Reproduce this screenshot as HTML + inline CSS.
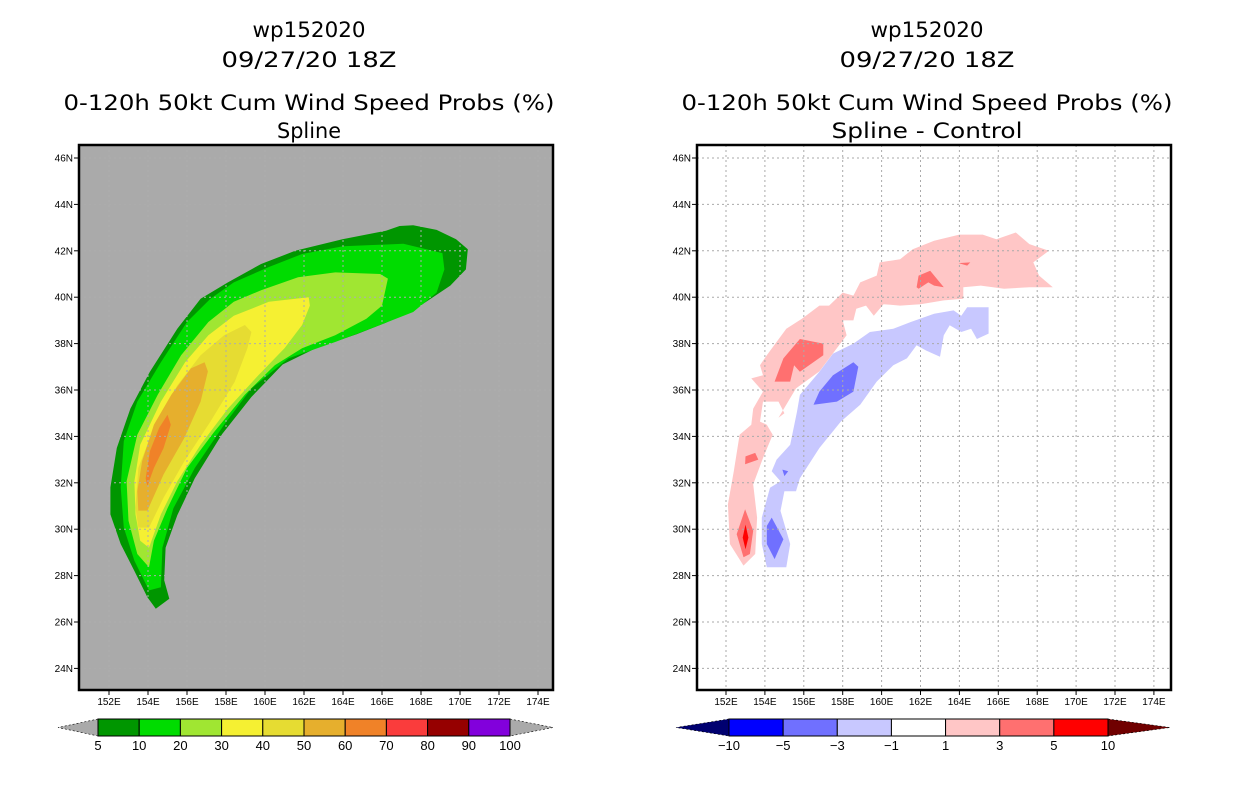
<!DOCTYPE html>
<html><head><meta charset="utf-8"><style>
html,body{margin:0;padding:0;background:#fff;}
svg{display:block;font-family:"Liberation Sans",sans-serif;}
</style></head><body>
<svg id="fig" width="1236" height="800" viewBox="0 0 1236 800" xmlns="http://www.w3.org/2000/svg">
<g id="L"></g>
<g id="R"></g>
</svg>
<script>
// ---- data ----
const lonTicks = [152,154,156,158,160,162,164,166,168,170,172,174];
const latTicks = [24,26,28,30,32,34,36,38,40,42,44,46];
const probLevels = ["5","10","20","30","40","50","60","70","80","90","100"];
const probColors = ["#009600","#00dc00","#a0e632","#f5f032","#e6dc32","#e6af2d","#f08228","#fa3c3c","#960000","#8200dc"];
const diffLevels = ["-10","-5","-3","-1","1","3","5","10"];
const diffColors = ["#0000ff","#7070ff","#c8c8ff","#ffffff","#ffc6c6","#ff7070","#ff0000"];
const p05 = [[154.4,26.57],[155.09,27.0],[154.83,27.8],[154.9,29.2],[155.5,30.6],[156.4,32.2],[157.8,34.1],[159.3,35.7],[160.9,37.1],[162.6,37.8],[164.7,38.4],[166.2,38.9],[167.9,39.6],[169.5,40.5],[170.3,41.2],[170.4,42.07],[169.8,42.5],[168.8,42.9],[167.6,43.1],[166.9,43.07],[166.2,42.86],[163.97,42.5],[161.55,42.0],[159.8,41.43],[158.1,40.64],[156.7,39.93],[155.5,38.64],[154.1,36.79],[153.1,35.2],[152.4,33.5],[152.07,31.8],[152.07,30.64],[152.6,29.36],[153.3,28.2],[153.97,27.07]];
const p10 = [[154.05,27.36],[154.66,27.5],[154.74,29.2],[155.3,30.9],[156.4,32.64],[157.9,34.5],[159.3,36.07],[161.2,37.36],[163.6,38.07],[165.9,38.8],[167.6,39.36],[168.8,40.2],[169.2,41.2],[169.1,41.9],[167.1,42.3],[164.0,42.2],[161.9,41.86],[160.2,41.3],[158.4,40.64],[157.2,39.93],[156.0,38.93],[154.66,37.2],[153.45,35.5],[152.76,33.8],[152.6,31.8],[152.76,30.07],[153.3,28.64]];
const p20 = [[154.05,28.36],[154.3,29.5],[155.0,30.9],[156.0,32.64],[157.4,34.2],[158.97,35.8],[160.5,37.07],[161.9,37.8],[163.6,38.36],[165.2,39.07],[166.0,39.64],[166.3,40.8],[165.9,41.0],[163.6,41.07],[161.7,40.86],[159.8,40.3],[158.4,39.8],[157.1,38.93],[155.7,37.5],[154.5,35.8],[153.45,34.07],[152.9,32.07],[153.0,30.36],[153.45,28.93]];
const p30 = [[154.05,29.2],[154.66,30.64],[155.5,32.07],[156.7,33.64],[158.1,35.2],[159.66,36.64],[161.0,37.8],[161.9,38.8],[162.3,39.64],[162.24,40.0],[160.2,39.8],[158.4,39.2],[157.1,38.36],[155.9,37.2],[154.66,35.5],[153.6,33.64],[153.3,32.07],[153.36,30.64],[153.6,29.5]];
const p40 = [[154.05,30.07],[154.8,31.36],[155.86,32.93],[157.2,34.64],[158.45,36.36],[159.1,37.8],[159.3,38.5],[158.97,38.8],[157.9,38.36],[156.7,37.5],[155.5,36.2],[154.3,34.36],[153.5,32.64],[153.36,30.93],[153.5,30.07]];
const p50 = [[153.97,30.8],[154.8,32.36],[155.86,33.93],[156.7,35.5],[157.07,36.8],[156.9,37.2],[156.2,36.93],[155.2,35.8],[154.3,34.5],[153.7,32.93],[153.45,31.64],[153.5,30.8]];
const p60 = [[153.97,31.86],[154.3,32.64],[154.8,33.5],[155.17,34.5],[155.0,34.93],[154.57,34.36],[154.1,33.36],[153.88,32.2]];
const dPos1 = [[152.9,28.43],[153.5,28.93],[153.6,30.5],[153.4,31.93],[153.9,33.07],[154.4,34.07],[154.1,34.5],[153.75,34.64],[153.9,35.5],[154.7,35.5],[155.0,35.0],[154.7,34.8],[155.6,36.07],[156.8,36.8],[158.2,38.36],[158.0,39.0],[158.55,39.0],[158.7,39.5],[159.2,39.64],[159.6,39.2],[160.1,39.7],[160.95,39.64],[162.0,39.7],[163.2,39.86],[164.2,39.93],[164.2,40.43],[165.1,40.5],[166.3,40.36],[167.6,40.43],[168.8,40.43],[168.1,40.93],[167.8,41.5],[168.6,42.0],[167.6,42.29],[166.9,42.79],[165.9,42.5],[165.2,42.7],[164.0,42.7],[162.7,42.43],[161.6,42.07],[160.95,41.64],[159.9,41.5],[159.75,40.93],[158.9,40.64],[158.55,40.07],[158.0,40.2],[157.3,39.64],[156.8,39.64],[155.9,39.07],[155.1,38.64],[154.1,37.5],[153.75,37.07],[153.9,36.64],[153.3,36.5],[153.9,35.93],[153.4,35.2],[153.3,34.5],[152.7,34.07],[152.4,32.5],[152.1,31.07],[152.2,29.36]];
const dPos3a = [[152.98,30.86],[153.4,29.93],[153.23,28.93],[152.9,28.79],[152.55,29.79]];
const dPos3b = [[153.0,33.14],[153.5,33.29],[153.66,33.0],[152.98,32.8]];
const dPos3c = [[154.5,36.36],[154.95,37.36],[155.8,38.2],[157.0,38.0],[157.0,37.5],[155.8,36.79],[155.5,37.07],[155.3,36.36]];
const dPos3d = [[161.8,40.43],[161.9,40.93],[162.5,41.14],[163.2,40.43],[162.7,40.5],[162.4,40.64],[161.9,40.36]];
const dPos3e = [[163.96,41.47],[164.56,41.5],[164.4,41.36]];
const dPos5 = [[153.0,30.2],[153.15,29.64],[153.0,29.14],[152.86,29.64]];
const dNeg1 = [[153.84,30.5],[154.26,31.79],[154.8,32.07],[154.35,32.5],[154.6,33.0],[155.3,33.64],[155.65,35.07],[155.8,35.79],[156.8,36.79],[157.5,37.57],[158.55,38.0],[159.4,38.5],[160.6,38.64],[161.5,38.93],[162.7,39.29],[163.7,39.43],[164.1,39.2],[164.4,39.57],[165.5,39.57],[165.5,38.43],[164.9,38.2],[164.6,38.64],[164.1,38.5],[163.5,38.79],[163.2,38.36],[163.0,37.43],[162.3,37.7],[161.8,37.93],[161.3,37.36],[160.6,37.07],[159.75,36.36],[158.9,35.36],[157.9,34.64],[156.8,33.5],[155.8,32.2],[155.6,31.64],[155.0,31.64],[154.8,30.79],[155.3,29.36],[155.1,28.36],[154.1,28.36],[153.84,29.36]];
const dNeg3a = [[154.35,30.5],[154.95,29.57],[154.5,28.71],[154.1,29.36],[154.1,30.14]];
const dNeg3b = [[158.55,37.2],[158.8,37.0],[158.55,35.93],[157.7,35.5],[156.5,35.36],[156.8,35.93],[157.5,36.64]];
const dNeg3c = [[154.9,32.57],[155.2,32.5],[155.0,32.29]];

// ---- helpers ----
const NS="http://www.w3.org/2000/svg";
function mk(parent,tag,attrs){const e=document.createElementNS(NS,tag);for(const k in attrs)e.setAttribute(k,attrs[k]);parent.appendChild(e);return e;}
function panel(g,x0,x1,xLon152,pxPerLon){
  const y0=145,y1=690;
  const X=lon=>xLon152+(lon-152)*pxPerLon;
  const Y=lat=>158+(46-lat)*23.2;
  return {g,x0,x1,y0,y1,X,Y};
}
function poly(P,pts,fill,name){
  const e=mk(P.g,'polygon',{points:pts.map(p=>P.X(p[0]).toFixed(1)+','+P.Y(p[1]).toFixed(1)).join(' '),fill:fill});
  
  
}
function axes(P,gridCol){
  const cp='clip'+P.x0;
  const defs=mk(P.g,'defs',{});const c=mk(defs,'clipPath',{id:cp});mk(c,'rect',{x:P.x0,y:P.y0,width:P.x1-P.x0,height:P.y1-P.y0});
  const grid=mk(P.g,'g',{'clip-path':'url(#'+cp+')'});
  
  
  lonTicks.forEach(l=>{mk(grid,'line',{x1:P.X(l),x2:P.X(l),y1:P.y0,y2:P.y1,stroke:gridCol,'stroke-width':1,'stroke-dasharray':'2,3'});});
  latTicks.forEach(l=>{mk(grid,'line',{x1:P.x0,x2:P.x1,y1:P.Y(l),y2:P.Y(l),stroke:gridCol,'stroke-width':1,'stroke-dasharray':'2,3'});});
  const fr=mk(P.g,'rect',{x:P.x0,y:P.y0,width:P.x1-P.x0,height:P.y1-P.y0,fill:'none',stroke:'#000','stroke-width':2.5});
  
  
  lonTicks.forEach(l=>{
    mk(P.g,'line',{x1:P.X(l),x2:P.X(l),y1:P.y1,y2:P.y1+5,stroke:'#000'});
    const t=mk(P.g,'text',{x:P.X(l),y:P.y1+15,'font-size':10,'text-anchor':'middle'});t.textContent=l+'E';
    
    
  });
  latTicks.forEach(l=>{
    mk(P.g,'line',{x1:P.x0-5,x2:P.x0,y1:P.Y(l),y2:P.Y(l),stroke:'#000'});
    const t=mk(P.g,'text',{x:P.x0-6,y:P.Y(l)+3.5,'font-size':10,'text-anchor':'end'});t.textContent=l+'N';
    
    
  });
}
function titles(g,cx,lines){
  const ys=[37,67,110,138];
  lines.forEach((s,i)=>{
    const t=mk(g,'text',{x:cx,y:ys[i],'font-size':21,'text-anchor':'middle','font-family':'"DejaVu Sans","Liberation Sans",sans-serif',textLength:s[1],lengthAdjust:'spacingAndGlyphs'});
    t.textContent=s[0];
    
    
  });
}
function colorbar(g,triL,bx0,bx1,triR,colors,labels,leftTri,rightTri){
  const y0=719,y1=736,ym=727.5,n=colors.length,w=(bx1-bx0)/n;
  const cb=mk(g,'g',{});
  
  
  mk(cb,'polygon',{points:`${bx0},${y0} ${triL},${ym} ${bx0},${y1}`,fill:leftTri,stroke:'#000','stroke-width':0.6,'stroke-dasharray':'2,2'});
  mk(cb,'polygon',{points:`${bx1},${y0} ${triR},${ym} ${bx1},${y1}`,fill:rightTri,stroke:'#000','stroke-width':0.6,'stroke-dasharray':'2,2'});
  colors.forEach((c,i)=>{
    const r=mk(cb,'rect',{x:bx0+i*w,y:y0,width:w,height:y1-y0,fill:c,stroke:'#000','stroke-width':1});
    
    
  });
  labels.forEach((s,i)=>{
    const t=mk(cb,'text',{x:bx0+i*w,y:750,'font-size':13,'text-anchor':'middle'});t.textContent=s.replace('-','\u2212');
    
    
  });
}

// ---- left panel ----
const LG=document.getElementById('L');
const PL=panel(LG,79,553,109,19.5);
const bg=mk(LG,'rect',{x:79,y:145,width:474,height:545,fill:'#aaaaaa'});


[[p05,0],[p10,1],[p20,2],[p30,3],[p40,4],[p50,5],[p60,6]].forEach(([pts,i])=>poly(PL,pts,probColors[i],'prob-contour-'+probLevels[i]));
axes(PL,'#adadad');
titles(LG,309,[["wp152020",113],["09/27/20 18Z",175],["0-120h 50kt Cum Wind Speed Probs (%)",491],["Spline",64]]);
colorbar(LG,58,98,510,553,probColors,probLevels,'#aaaaaa','#aaaaaa');

// ---- right panel ----
const RG=document.getElementById('R');
const PR=panel(RG,697,1171,726,19.45);
poly(PR,dPos1,diffColors[4],'diff-contour-pos1');
[dPos3a,dPos3b,dPos3c,dPos3d,dPos3e].forEach(p=>poly(PR,p,diffColors[5],'diff-contour-pos3'));
poly(PR,dPos5,diffColors[6],'diff-contour-pos5');
poly(PR,dNeg1,diffColors[2],'diff-contour-neg1');
[dNeg3a,dNeg3b,dNeg3c].forEach(p=>poly(PR,p,diffColors[1],'diff-contour-neg3'));
axes(PR,'#aaaaaa');
titles(RG,927,[["wp152020",113],["09/27/20 18Z",175],["0-120h 50kt Cum Wind Speed Probs (%)",491],["Spline - Control",191]]);
colorbar(RG,676,729,1108,1170,diffColors,diffLevels,'#000070','#700000');
</script>
</body></html>
